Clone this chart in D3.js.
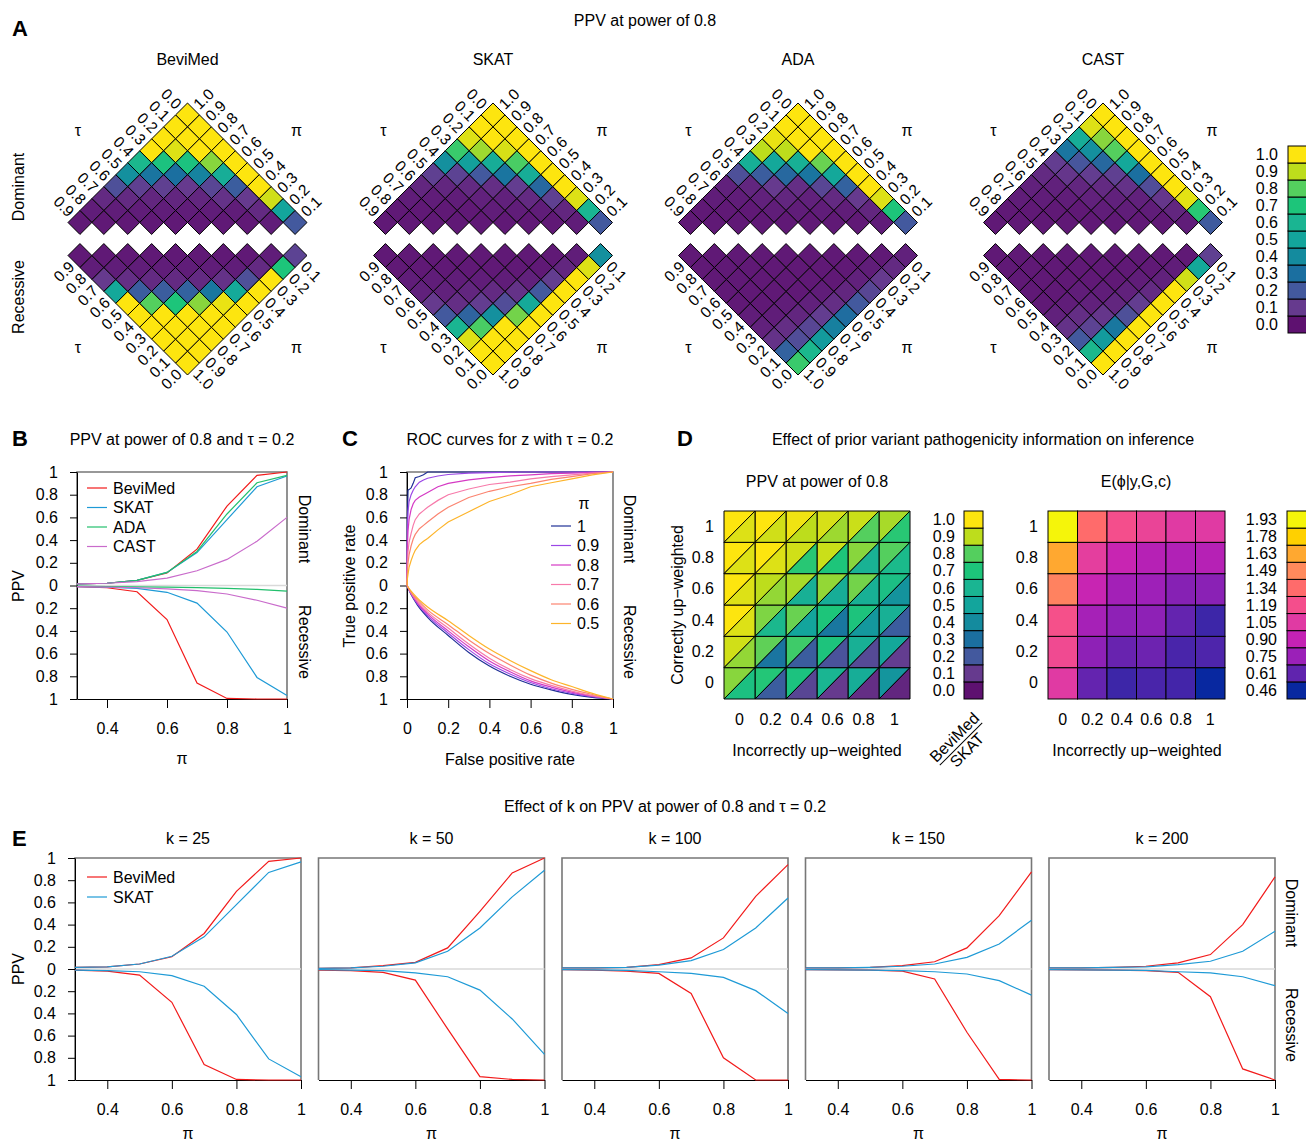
<!DOCTYPE html>
<html>
<head>
<meta charset="utf-8">
<script src="https://cdn.jsdelivr.net/npm/d3@7"></script>
<style>
  body { margin: 0; background: #fff; }
  svg { font-family: "Liberation Sans", Arial, Helvetica, sans-serif; }
</style>
</head>
<body>
<svg id="canvas" width="1306" height="1144"></svg>
<script>
// ---------- data: panel A (rows = tau 0.0..0.9, columns = pi 1.0 down to tau+0.1) ----------
const tauValues = [0.0, 0.1, 0.2, 0.3, 0.4, 0.5, 0.6, 0.7, 0.8, 0.9];
const piValues = [1.0, 0.9, 0.8, 0.7, 0.6, 0.5, 0.4, 0.3, 0.2, 0.1];
const methodNames = ["BeviMed", "SKAT", "ADA", "CAST"];

const beviMedDominant = [
  [1, 1, 1, 1, 1, 1, 1, 0.93, 0.5, 0.2],
  [1, 1, 1, 0.85, 0.55, 0.22, 0.1, 0.06, 0.03],
  [1, 0.95, 0.68, 0.37, 0.14, 0.08, 0.03, 0.02],
  [1, 0.68, 0.3, 0.1, 0.05, 0.03, 0.02],
  [0.62, 0.32, 0.12, 0.05, 0.03, 0.02],
  [0.42, 0.12, 0.05, 0.03, 0.02],
  [0.17, 0.06, 0.03, 0.02],
  [0.06, 0.03, 0.02],
  [0.03, 0.02],
  [0.02]
];
const beviMedRecessive = [
  [1, 1, 1, 1, 1, 1, 1, 1, 0.7, 0.13],
  [1, 1, 1, 1, 0.97, 0.53, 0.17, 0.06, 0.03],
  [1, 1, 1, 0.85, 0.33, 0.08, 0.03, 0.02],
  [1, 1, 0.7, 0.24, 0.06, 0.03, 0.02],
  [1, 0.8, 0.22, 0.06, 0.03, 0.02],
  [1, 0.22, 0.06, 0.03, 0.02],
  [0.52, 0.07, 0.03, 0.02],
  [0.1, 0.03, 0.02],
  [0.03, 0.02],
  [0.02]
];
const skatDominant = [
  [1, 1, 1, 1, 1, 1, 1, 0.95, 0.6, 0.2],
  [1, 1, 0.94, 0.78, 0.55, 0.27, 0.12, 0.05, 0.03],
  [0.95, 0.87, 0.55, 0.32, 0.11, 0.06, 0.03, 0.02],
  [0.75, 0.48, 0.2, 0.07, 0.04, 0.03, 0.02],
  [0.42, 0.13, 0.06, 0.04, 0.03, 0.02],
  [0.12, 0.05, 0.03, 0.02, 0.02],
  [0.05, 0.03, 0.02, 0.02],
  [0.03, 0.02, 0.02],
  [0.02, 0.02],
  [0.02]
];
const skatRecessive = [
  [1, 1, 1, 1, 1, 1, 1, 1, 0.95, 0.42],
  [1, 1, 1, 0.83, 0.53, 0.2, 0.11, 0.05, 0.03],
  [0.95, 0.78, 0.42, 0.16, 0.08, 0.04, 0.02, 0.02],
  [0.6, 0.25, 0.11, 0.06, 0.03, 0.02, 0.02],
  [0.2, 0.07, 0.05, 0.03, 0.02, 0.02],
  [0.1, 0.04, 0.03, 0.02, 0.02],
  [0.04, 0.03, 0.02, 0.02],
  [0.03, 0.02, 0.02],
  [0.02, 0.02],
  [0.02]
];
const adaDominant = [
  [1, 1, 1, 1, 1, 1, 1, 0.95, 0.7, 0.2],
  [1, 1, 1, 0.82, 0.52, 0.24, 0.1, 0.05, 0.03],
  [0.97, 0.9, 0.57, 0.32, 0.14, 0.06, 0.03, 0.02],
  [0.9, 0.52, 0.27, 0.07, 0.04, 0.03, 0.02],
  [0.56, 0.22, 0.1, 0.05, 0.03, 0.02],
  [0.17, 0.05, 0.04, 0.03, 0.02],
  [0.04, 0.03, 0.02, 0.02],
  [0.03, 0.02, 0.02],
  [0.02, 0.02],
  [0.02]
];
const adaRecessive = [
  [0.75, 0.62, 0.46, 0.36, 0.29, 0.2, 0.14, 0.1, 0.06, 0.04],
  [0.24, 0.16, 0.14, 0.11, 0.07, 0.05, 0.04, 0.03, 0.02],
  [0.08, 0.07, 0.05, 0.04, 0.03, 0.02, 0.02, 0.02],
  [0.04, 0.03, 0.03, 0.02, 0.02, 0.02, 0.02],
  [0.03, 0.02, 0.02, 0.02, 0.02, 0.02],
  [0.02, 0.02, 0.02, 0.02, 0.02],
  [0.02, 0.02, 0.02, 0.02],
  [0.02, 0.02, 0.02],
  [0.02, 0.02],
  [0.02]
];
const castDominant = [
  [1, 1, 1, 1, 1, 1, 1, 0.96, 0.72, 0.21],
  [0.95, 0.85, 0.8, 0.52, 0.3, 0.16, 0.09, 0.05, 0.03],
  [0.55, 0.42, 0.27, 0.12, 0.08, 0.04, 0.03, 0.02],
  [0.32, 0.19, 0.11, 0.06, 0.04, 0.03, 0.02],
  [0.11, 0.09, 0.05, 0.04, 0.03, 0.02],
  [0.06, 0.04, 0.03, 0.02, 0.02],
  [0.04, 0.03, 0.02, 0.02],
  [0.03, 0.02, 0.02],
  [0.02, 0.02],
  [0.02]
];
const castRecessive = [
  [1, 1, 1, 1, 1, 1, 1, 0.93, 0.52, 0.12],
  [0.62, 0.46, 0.33, 0.17, 0.11, 0.06, 0.04, 0.03, 0.02],
  [0.2, 0.13, 0.09, 0.05, 0.04, 0.03, 0.02, 0.02],
  [0.08, 0.07, 0.04, 0.03, 0.02, 0.02, 0.02],
  [0.04, 0.03, 0.03, 0.02, 0.02, 0.02],
  [0.02, 0.02, 0.02, 0.02, 0.02],
  [0.02, 0.02, 0.02, 0.02],
  [0.02, 0.02, 0.02],
  [0.02, 0.02],
  [0.02]
];

const ppvLevels = [0.0, 0.1, 0.2, 0.3, 0.4, 0.5, 0.6, 0.7, 0.8, 0.9, 1.0];
const ppvColors = ["#5e1170", "#663a8e", "#43599e", "#1b6fa0", "#148b9e", "#13a59c",
                   "#1ab592", "#1dc57a", "#54cf5e", "#bddd1c", "#fde50f"];

// ---------- data: panel B ----------
const bPi = [0.3, 0.4, 0.5, 0.6, 0.7, 0.8, 0.9, 1.0];
const bBeviMedDominant = [0.015, 0.02, 0.045, 0.11, 0.32, 0.70, 0.97, 1.0];
const bSkatDominant = [0.015, 0.02, 0.045, 0.115, 0.29, 0.58, 0.87, 0.965];
const bAdaDominant = [0.015, 0.02, 0.045, 0.115, 0.30, 0.63, 0.905, 0.97];
const bCastDominant = [0.015, 0.02, 0.035, 0.065, 0.13, 0.23, 0.39, 0.60];
const bBeviMedRecessive = [0.01, 0.02, 0.055, 0.30, 0.86, 0.995, 1.0, 1.0];
const bSkatRecessive = [0.01, 0.015, 0.025, 0.06, 0.155, 0.41, 0.81, 0.97];
const bAdaRecessive = [0.005, 0.01, 0.012, 0.015, 0.018, 0.025, 0.035, 0.05];
const bCastRecessive = [0.01, 0.015, 0.02, 0.03, 0.045, 0.075, 0.13, 0.20];
const methodColors = ["#f21a1a", "#1e9ad6", "#22bf6c", "#c96bcb"];

// ---------- data: panel C ----------
const rocPi = ["1", "0.9", "0.8", "0.7", "0.6", "0.5"];
const rocColors = ["#1f2f96", "#9b47e6", "#d53ac4", "#f77aaa", "#fb8470", "#fdb42a"];
const rocDominantFpr = [0, 0.002, 0.005, 0.01, 0.02, 0.03, 0.04, 0.06, 0.08, 0.1,
                        0.15, 0.2, 0.3, 0.4, 0.5, 0.6, 0.7, 0.8, 0.9, 1];
const rocDominantTpr = [
  [0, 0.6, 0.84, 0.845, 0.86, 0.9, 0.95, 0.96, 0.975, 1, 1, 1, 1, 1, 1, 1, 1, 1, 1, 1],
  [0, 0.5, 0.65, 0.74, 0.8, 0.84, 0.87, 0.91, 0.93, 0.945, 0.965, 0.978, 0.99, 0.995, 0.998, 1, 1, 1, 1, 1],
  [0, 0.35, 0.48, 0.58, 0.67, 0.72, 0.75, 0.78, 0.8, 0.82, 0.87, 0.9, 0.93, 0.95, 0.965, 0.975, 0.985, 0.99, 0.996, 1],
  [0, 0.2, 0.3, 0.38, 0.46, 0.53, 0.58, 0.63, 0.66, 0.69, 0.75, 0.8, 0.85, 0.89, 0.91, 0.94, 0.96, 0.975, 0.99, 1],
  [0, 0.12, 0.2, 0.27, 0.35, 0.41, 0.45, 0.5, 0.53, 0.56, 0.63, 0.69, 0.775, 0.83, 0.87, 0.9, 0.935, 0.96, 0.985, 1],
  [0, 0.06, 0.1, 0.16, 0.22, 0.27, 0.31, 0.36, 0.39, 0.415, 0.49, 0.56, 0.65, 0.74, 0.8, 0.87, 0.905, 0.94, 0.975, 1]
];
const rocRecessiveFpr = [0, 0.02, 0.05, 0.1, 0.2, 0.3, 0.4, 0.5, 0.6, 0.7, 0.8, 0.9, 1];
const rocRecessiveTpr = [
  [0, 0.08, 0.17, 0.28, 0.44, 0.59, 0.71, 0.8, 0.87, 0.92, 0.96, 0.985, 1],
  [0, 0.075, 0.16, 0.265, 0.42, 0.565, 0.69, 0.78, 0.855, 0.91, 0.95, 0.98, 1],
  [0, 0.07, 0.15, 0.25, 0.4, 0.54, 0.665, 0.76, 0.84, 0.895, 0.94, 0.975, 1],
  [0, 0.065, 0.14, 0.235, 0.375, 0.515, 0.64, 0.74, 0.82, 0.88, 0.93, 0.97, 1],
  [0, 0.06, 0.125, 0.215, 0.345, 0.48, 0.6, 0.7, 0.79, 0.86, 0.915, 0.96, 1],
  [0, 0.05, 0.11, 0.19, 0.31, 0.44, 0.56, 0.66, 0.75, 0.83, 0.89, 0.95, 1]
];

// ---------- data: panel D (rows = correctly up-weighted 0..1, cols = incorrectly 0..1) ----------
const dCorrect = [0, 0.2, 0.4, 0.6, 0.8, 1];
const dIncorrect = [0, 0.2, 0.4, 0.6, 0.8, 1];
const dBeviMedPpv = [
  [0.85, 0.71, 0.68, 0.6, 0.55, 0.44],
  [0.93, 0.81, 0.76, 0.69, 0.57, 0.52],
  [1.0, 0.84, 0.82, 0.7, 0.69, 0.57],
  [1.0, 0.9, 0.88, 0.86, 0.83, 0.66],
  [1.0, 1.0, 0.93, 0.92, 0.85, 0.8],
  [1.0, 1.0, 0.98, 0.94, 0.92, 0.88]
];
const dSkatPpv = [
  [0.67, 0.22, 0.14, 0.1, 0.07, 0.05],
  [0.86, 0.32, 0.22, 0.18, 0.15, 0.11],
  [0.95, 0.62, 0.5, 0.33, 0.45, 0.22],
  [0.95, 0.86, 0.57, 0.55, 0.57, 0.43],
  [0.95, 0.95, 0.72, 0.7, 0.58, 0.63],
  [0.95, 0.93, 0.9, 0.87, 0.8, 0.72]
];
const dPhi = [
  [1.05, 0.62, 0.55, 0.57, 0.56, 0.46],
  [1.16, 0.72, 0.63, 0.64, 0.57, 0.58],
  [1.2, 0.79, 0.72, 0.72, 0.62, 0.55],
  [1.45, 0.92, 0.78, 0.76, 0.7, 0.71],
  [1.63, 1.08, 0.92, 0.85, 0.83, 0.85],
  [1.93, 1.34, 1.19, 1.12, 1.05, 1.05]
];
const phiLevels = [0.46, 0.61, 0.75, 0.90, 1.05, 1.19, 1.34, 1.49, 1.63, 1.78, 1.93];
const phiColors = ["#0828a0", "#6024ae", "#9b20b8", "#c422b4", "#e03aa3", "#f44e8c",
                   "#ff6b6b", "#ff8a5c", "#ffa830", "#ffd000", "#f5f50a"];

// ---------- data: panel E ----------
const ePi = [0.3, 0.4, 0.5, 0.6, 0.7, 0.8, 0.9, 1.0];
const eK = [25, 50, 100, 150, 200];
const eBeviMedDominant = [
  [0.015, 0.02, 0.045, 0.11, 0.32, 0.70, 0.97, 1.0],
  [0.006, 0.01, 0.03, 0.06, 0.19, 0.52, 0.865, 1.0],
  [0.01, 0.01, 0.015, 0.04, 0.10, 0.28, 0.655, 0.94],
  [0.01, 0.01, 0.015, 0.03, 0.065, 0.19, 0.48, 0.875],
  [0.01, 0.01, 0.015, 0.025, 0.055, 0.13, 0.40, 0.83]
];
const eSkatDominant = [
  [0.015, 0.02, 0.045, 0.115, 0.29, 0.58, 0.87, 0.965],
  [0.005, 0.01, 0.025, 0.055, 0.16, 0.37, 0.65, 0.89],
  [0.01, 0.01, 0.015, 0.035, 0.075, 0.175, 0.37, 0.64],
  [0.01, 0.01, 0.015, 0.025, 0.045, 0.105, 0.225, 0.44],
  [0.01, 0.01, 0.015, 0.02, 0.04, 0.07, 0.16, 0.34]
];
const eBeviMedRecessive = [
  [0.01, 0.02, 0.055, 0.30, 0.86, 0.995, 1.0, 1.0],
  [0.01, 0.015, 0.03, 0.10, 0.54, 0.97, 0.995, 1.0],
  [0.005, 0.01, 0.02, 0.04, 0.22, 0.80, 1.0, 1.0],
  [0.005, 0.008, 0.01, 0.02, 0.09, 0.57, 0.995, 1.0],
  [0.005, 0.008, 0.01, 0.015, 0.03, 0.25, 0.90, 1.0]
];
const eSkatRecessive = [
  [0.01, 0.015, 0.025, 0.06, 0.155, 0.41, 0.81, 0.97],
  [0.005, 0.01, 0.015, 0.035, 0.07, 0.19, 0.45, 0.77],
  [0.005, 0.008, 0.012, 0.025, 0.04, 0.075, 0.195, 0.40],
  [0.005, 0.008, 0.01, 0.015, 0.025, 0.045, 0.105, 0.235],
  [0.005, 0.008, 0.01, 0.012, 0.025, 0.035, 0.07, 0.15]
];

// ---------- helpers ----------
const svg = d3.select("#canvas");
const FS = 16;

const label = (x, y, s, o = {}) => {
  const t = svg.append("text")
    .attr("x", x).attr("y", y).attr("dy", "0.35em")
    .attr("text-anchor", o.anchor || "middle")
    .attr("font-size", o.size || FS)
    .text(s);
  if (o.rotate) t.attr("transform", `rotate(${o.rotate},${x},${y})`);
  if (o.bold) t.attr("font-weight", "bold");
  return t;
};

const styleAxis = (g) => {
  g.selectAll("text").attr("font-size", FS).attr("font-family", null).attr("fill", "#000");
  g.attr("font-family", null);
  g.selectAll("line").attr("stroke", "#000");
  g.select(".domain").attr("stroke", "#000");
};

const ppvColor = d3.scaleLinear().domain(ppvLevels).range(ppvColors).clamp(true);
const phiColor = d3.scaleLinear().domain(phiLevels).range(phiColors).clamp(true);
const absFormat = (d) => String(Math.abs(Math.round(d * 10) / 10));

// ---------- panel A ----------
label(12, 28, "A", { anchor: "start", size: 22, bold: true });
label(645, 20, "PPV at power of 0.8");
label(18, 187, "Dominant", { rotate: -90 });
label(18, 297, "Recessive", { rotate: -90 });

const aCenters = [187.5, 493, 798, 1103];
const cellHalf = 11.95;
const aDominant = [beviMedDominant, skatDominant, adaDominant, castDominant];
const aRecessive = [beviMedRecessive, skatRecessive, adaRecessive, castRecessive];

const drawDiamond = (cx, apexY, rows, dir) => {
  const d = cellHalf;
  const xPos = d3.scaleLinear().domain([0, 1]).range([cx, cx + d]);
  const yPos = d3.scaleLinear().domain([0, 1]).range([apexY + dir * d, apexY + dir * 2 * d]);
  const cells = rows.flatMap((row, i) => row.map((v, j) => ({ i, j, v })));
  svg.append("g")
    .selectAll("path")
    .data(cells)
    .join("path")
    .attr("d", (c) => {
      const x = xPos(c.j - c.i), y = yPos(c.i + c.j);
      return `M${x},${y - d}L${x + d},${y}L${x},${y + d}L${x - d},${y}Z`;
    })
    .attr("fill", (c) => ppvColor(c.v))
    .attr("stroke", "#000")
    .attr("stroke-width", 1);

  const off = d / 2 + 2.5;
  tauValues.forEach((t, i) => {
    const x = xPos(-i) - off, y = yPos(i) - dir * off;
    label(x, y, t.toFixed(1), { anchor: "end", rotate: dir * 45, size: 15.5 });
  });
  piValues.forEach((p, j) => {
    const x = xPos(j) + off, y = yPos(j) - dir * off;
    label(x, y, p.toFixed(1), { anchor: "start", rotate: -dir * 45, size: 15.5 });
  });
};

methodNames.forEach((m, k) => {
  const cx = aCenters[k];
  label(cx, 59, m);
  drawDiamond(cx, 103, aDominant[k], 1);
  drawDiamond(cx, 375, aRecessive[k], -1);
  label(cx - 109.5, 130, "τ");
  label(cx + 109, 130, "π");
  label(cx - 109.5, 347, "τ");
  label(cx + 109, 347, "π");
});

// legend A
const legendA = d3.scaleBand().domain(ppvLevels.slice().reverse()).range([146, 333]);
svg.append("g").selectAll("rect").data(ppvLevels).join("rect")
  .attr("x", 1288).attr("y", (v) => legendA(v))
  .attr("width", 24).attr("height", legendA.bandwidth())
  .attr("fill", (v) => ppvColor(v)).attr("stroke", "#000");
ppvLevels.forEach((v) => label(1278, legendA(v) + legendA.bandwidth() / 2, v.toFixed(1), { anchor: "end" }));

// ---------- PPV line plot (panels B and E) ----------
const ppvPlot = (left, top, width, height, series, xValues, showY) => {
  const x = d3.scaleLinear().domain([0.3, 1]).range([left, left + width]);
  const y = d3.scaleLinear().domain([-1, 1]).range([top + height, top]);
  const g = svg.append("g");
  g.append("path")
    .attr("d", `M${left},${top + height}V${top}H${left + width}V${top + height}`)
    .attr("fill", "none").attr("stroke", "#777").attr("stroke-width", 1.6);
  g.append("line")
    .attr("x1", left).attr("x2", left + width).attr("y1", y(0)).attr("y2", y(0))
    .attr("stroke", "#d9d9d9").attr("stroke-width", 1.6);
  g.append("g").attr("transform", `translate(0,${top + height})`)
    .call(d3.axisBottom(x).tickValues([0.4, 0.6, 0.8, 1]).tickSize(9).tickPadding(15)
      .tickSizeOuter(0).tickFormat(d3.format("")))
    .call(styleAxis);
  if (showY) {
    g.append("g").attr("transform", `translate(${left},0)`)
      .call(d3.axisLeft(y).tickValues(d3.range(-10, 11, 2).map((v) => v / 10))
        .tickSize(7).tickPadding(12).tickSizeOuter(0).tickFormat(absFormat))
      .call(styleAxis);
  }
  series.forEach((s) => {
    g.append("path").datum(s.dom)
      .attr("d", d3.line().x((v, k) => x(xValues[k])).y((v) => y(v)))
      .attr("fill", "none").attr("stroke", s.color).attr("stroke-width", 1.2);
    g.append("path").datum(s.rec)
      .attr("d", d3.line().x((v, k) => x(xValues[k])).y((v) => y(-v)))
      .attr("fill", "none").attr("stroke", s.color).attr("stroke-width", 1.2);
  });
  return { x, y };
};

const lineLegend = (x, y0, step, names, colors) => {
  names.forEach((n, k) => {
    const y = y0 + k * step;
    svg.append("line").attr("x1", x).attr("x2", x + 20).attr("y1", y).attr("y2", y)
      .attr("stroke", colors[k]).attr("stroke-width", 1.2);
    label(x + 26, y, n, { anchor: "start" });
  });
};

// ---------- panel B ----------
label(12, 438, "B", { anchor: "start", size: 22, bold: true });
label(182, 439, "PPV at power of 0.8 and τ = 0.2");
ppvPlot(77, 472, 210, 227, [
  { dom: bBeviMedDominant, rec: bBeviMedRecessive, color: methodColors[0] },
  { dom: bSkatDominant, rec: bSkatRecessive, color: methodColors[1] },
  { dom: bAdaDominant, rec: bAdaRecessive, color: methodColors[2] },
  { dom: bCastDominant, rec: bCastRecessive, color: methodColors[3] }
], bPi, true);
lineLegend(87, 488, 19.5, methodNames, methodColors);
label(18, 586, "PPV", { rotate: -90 });
label(182, 758, "π");
label(305, 529, "Dominant", { rotate: 90 });
label(305, 642, "Recessive", { rotate: 90 });

// ---------- panel C ----------
label(342, 438, "C", { anchor: "start", size: 22, bold: true });
label(510, 439, "ROC curves for z with τ = 0.2");
{
  const left = 407, top = 472, width = 206, height = 227;
  const x = d3.scaleLinear().domain([0, 1]).range([left, left + width]);
  const y = d3.scaleLinear().domain([-1, 1]).range([top + height, top]);
  const g = svg.append("g");
  g.append("path")
    .attr("d", `M${left},${top + height}V${top}H${left + width}V${top + height}`)
    .attr("fill", "none").attr("stroke", "#777").attr("stroke-width", 1.6);
  g.append("g").attr("transform", `translate(0,${top + height})`)
    .call(d3.axisBottom(x).tickValues([0, 0.2, 0.4, 0.6, 0.8, 1]).tickSize(9).tickPadding(15)
      .tickSizeOuter(0).tickFormat(d3.format("")))
    .call(styleAxis);
  g.append("g").attr("transform", `translate(${left},0)`)
    .call(d3.axisLeft(y).tickValues(d3.range(-10, 11, 2).map((v) => v / 10))
      .tickSize(7).tickPadding(12).tickSizeOuter(0).tickFormat(absFormat))
    .call(styleAxis);
  rocDominantTpr.forEach((tpr, k) => {
    g.append("path").datum(tpr)
      .attr("d", d3.line().x((v, n) => x(rocDominantFpr[n])).y((v) => y(v)))
      .attr("fill", "none").attr("stroke", rocColors[k]).attr("stroke-width", 1.2);
  });
  rocRecessiveTpr.forEach((tpr, k) => {
    g.append("path").datum(tpr)
      .attr("d", d3.line().curve(d3.curveMonotoneX).x((v, n) => x(rocRecessiveFpr[n])).y((v) => y(-v)))
      .attr("fill", "none").attr("stroke", rocColors[k]).attr("stroke-width", 1.2);
  });
}
label(584, 503, "π");
lineLegend(551, 526, 19.5, rocPi, rocColors);
label(349, 586, "True positive rate", { rotate: -90 });
label(510, 759, "False positive rate");
label(630, 529, "Dominant", { rotate: 90 });
label(630, 642, "Recessive", { rotate: 90 });

// ---------- panel D ----------
label(677, 438, "D", { anchor: "start", size: 22, bold: true });
label(983, 439, "Effect of prior variant pathogenicity information on inference");
label(817, 481, "PPV at power of 0.8");
label(1136, 481, "E(ϕ|y,G,c)");

const gridAxes = (x, y, top, bottom, left) => {
  svg.append("g").attr("transform", `translate(0,${bottom})`)
    .call(d3.axisBottom(x).tickSize(0).tickPadding(15).tickFormat(d3.format("")))
    .call(styleAxis).call((g) => g.select(".domain").remove());
  svg.append("g").attr("transform", `translate(${left},0)`)
    .call(d3.axisLeft(y).tickSize(0).tickPadding(10).tickFormat(d3.format("")))
    .call(styleAxis).call((g) => g.select(".domain").remove());
};

{
  const x = d3.scaleBand().domain(dIncorrect).range([724, 910]);
  const y = d3.scaleBand().domain(dCorrect.slice().reverse()).range([511, 699]);
  const cells = dCorrect.flatMap((c, r) => dIncorrect.map((inc, k) => ({
    c, inc, bevimed: dBeviMedPpv[r][k], skat: dSkatPpv[r][k] })));
  const w = x.bandwidth(), h = y.bandwidth();
  const g = svg.append("g");
  g.selectAll("path.up").data(cells).join("path").attr("class", "up")
    .attr("d", (d) => { const x0 = x(d.inc), y0 = y(d.c); return `M${x0},${y0}H${x0 + w}L${x0},${y0 + h}Z`; })
    .attr("fill", (d) => ppvColor(d.bevimed)).attr("stroke", "#000").attr("stroke-width", 1);
  g.selectAll("path.lo").data(cells).join("path").attr("class", "lo")
    .attr("d", (d) => { const x0 = x(d.inc), y0 = y(d.c); return `M${x0 + w},${y0}V${y0 + h}H${x0}Z`; })
    .attr("fill", (d) => ppvColor(d.skat)).attr("stroke", "#000").attr("stroke-width", 1);
  gridAxes(x, y, 511, 699, 724);

  const leg = d3.scaleBand().domain(ppvLevels.slice().reverse()).range([511, 699]);
  svg.append("g").selectAll("rect").data(ppvLevels).join("rect")
    .attr("x", 964).attr("y", (v) => leg(v)).attr("width", 19).attr("height", leg.bandwidth())
    .attr("fill", (v) => ppvColor(v)).attr("stroke", "#000");
  ppvLevels.forEach((v) => label(955, leg(v) + leg.bandwidth() / 2, v.toFixed(1), { anchor: "end" }));

  const frac = svg.append("g").attr("transform", "translate(961,744) rotate(-45)");
  frac.append("text").attr("x", 0).attr("y", -4).attr("text-anchor", "middle")
    .attr("font-size", FS).text("BeviMed");
  frac.append("line").attr("x1", -30).attr("x2", 30).attr("y1", 0).attr("y2", 0)
    .attr("stroke", "#000");
  frac.append("text").attr("x", 0).attr("y", 14).attr("text-anchor", "middle")
    .attr("font-size", FS).text("SKAT");
}
label(677, 605, "Correctly up−weighted", { rotate: -90 });
label(817, 750, "Incorrectly up−weighted");

{
  const x = d3.scaleBand().domain(dIncorrect).range([1048, 1225]);
  const y = d3.scaleBand().domain(dCorrect.slice().reverse()).range([511, 699]);
  const cells = dCorrect.flatMap((c, r) => dIncorrect.map((inc, k) => ({ c, inc, v: dPhi[r][k] })));
  svg.append("g").selectAll("rect").data(cells).join("rect")
    .attr("x", (d) => x(d.inc)).attr("y", (d) => y(d.c))
    .attr("width", x.bandwidth()).attr("height", y.bandwidth())
    .attr("fill", (d) => phiColor(d.v)).attr("stroke", "#000").attr("stroke-width", 1);
  gridAxes(x, y, 511, 699, 1048);

  const leg = d3.scaleBand().domain(phiLevels.slice().reverse()).range([511, 699]);
  svg.append("g").selectAll("rect").data(phiLevels).join("rect")
    .attr("x", 1287).attr("y", (v) => leg(v)).attr("width", 25).attr("height", leg.bandwidth())
    .attr("fill", (v) => phiColor(v)).attr("stroke", "#000");
  phiLevels.forEach((v) => label(1277, leg(v) + leg.bandwidth() / 2, v.toFixed(2), { anchor: "end" }));
}
label(1137, 750, "Incorrectly up−weighted");

// ---------- panel E ----------
label(12, 838, "E", { anchor: "start", size: 22, bold: true });
label(665, 806, "Effect of k on PPV at power of 0.8 and τ = 0.2");
eK.forEach((k, n) => {
  const left = 75 + n * 243.5;
  ppvPlot(left, 858, 226, 222, [
    { dom: eBeviMedDominant[n], rec: eBeviMedRecessive[n], color: methodColors[0] },
    { dom: eSkatDominant[n], rec: eSkatRecessive[n], color: methodColors[1] }
  ], ePi, n === 0);
  label(left + 113, 838, `k = ${k}`);
  label(left + 113, 1133, "π");
});
lineLegend(87, 877, 20, ["BeviMed", "SKAT"], methodColors.slice(0, 2));
label(18, 969, "PPV", { rotate: -90 });
label(1292, 913, "Dominant", { rotate: 90 });
label(1292, 1025, "Recessive", { rotate: 90 });
</script>
</body>
</html>
